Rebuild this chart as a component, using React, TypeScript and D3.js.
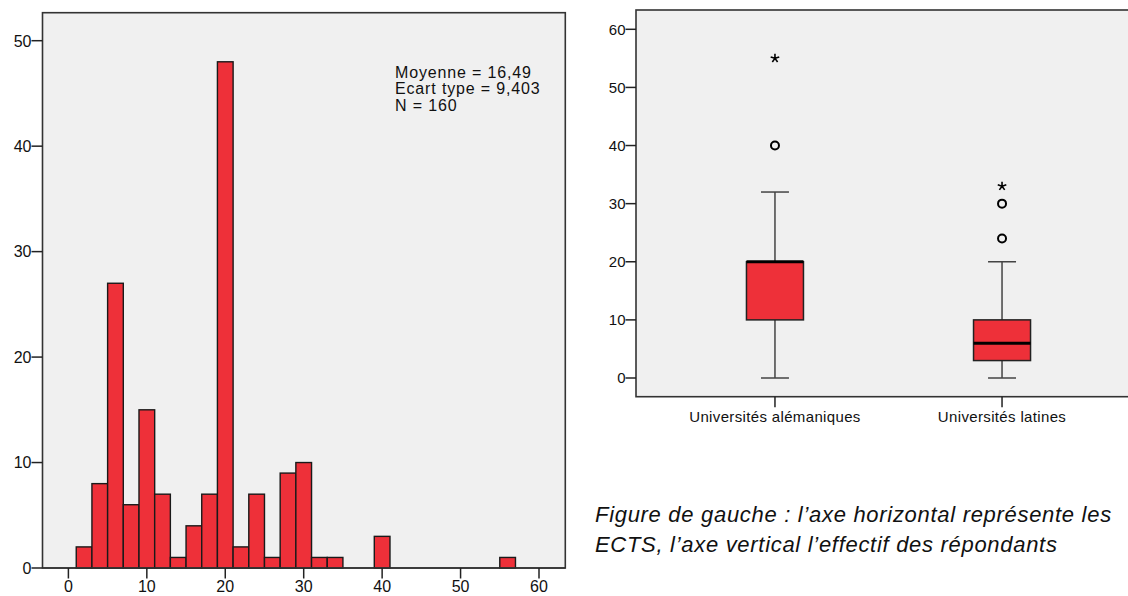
import React from 'react';
import * as d3 from 'd3';

// Histogram data (ECTS, bins of width 2)
const histBinStarts = [1, 3, 5, 7, 9, 11, 13, 15, 17, 19, 21, 23, 25, 27, 29, 31, 33, 39, 55];
const histCounts = [2, 8, 27, 6, 15, 7, 1, 4, 7, 48, 2, 7, 1, 9, 10, 1, 1, 3, 1];
const binWidth = 2;
const histXTicks = [0, 10, 20, 30, 40, 50, 60];
const histYTicks = [0, 10, 20, 30, 40, 50];
const statsLines = ['Moyenne = 16,49', 'Ecart type = 9,403', 'N = 160'];

// Boxplot data
const boxCategories = ['Universités alémaniques', 'Universités latines'];
const boxMin = [0, 0];
const boxQ1 = [10, 3];
const boxMedian = [20, 6];
const boxQ3 = [20, 10];
const boxMax = [32, 20];
const boxOutliers = [[40], [24, 30]];
const boxExtremes = [[55], [33]];
const boxYTicks = [0, 10, 20, 30, 40, 50, 60];

const captionLines = [
  'Figure de gauche : l\u2019axe horizontal représente les',
  'ECTS, l\u2019axe vertical l\u2019effectif des répondants',
];

const RED = '#EE3039';
const PANEL = '#F0F0F0';
const FONT = '"Liberation Sans", Arial, Helvetica, sans-serif';

function starPath(cx: number, cy: number, r: number) {
  const p = d3.path();
  for (let i = 0; i < 5; i++) {
    const a = (-90 + i * 72) * Math.PI / 180;
    p.moveTo(cx, cy);
    p.lineTo(cx + r * Math.cos(a), cy + r * Math.sin(a));
  }
  return p.toString();
}

export default function App() {
  // Histogram geometry
  const hFrame = { left: 42.5, right: 565.3, top: 12.7, bottom: 568 };
  const hx = d3.scaleLinear().domain([0, 60]).range([68.4, 539]);
  const hy = d3.scaleLinear().domain([0, 50]).range([568, 40.7]);

  // Boxplot geometry
  const bFrame = { left: 636, right: 1141, top: 10, bottom: 396.7 };
  const bx = d3.scalePoint<string>().domain(boxCategories).range([bFrame.left, bFrame.right]).padding(0.612);
  const by = d3.scaleLinear().domain([0, 60]).range([378, 29.3]);
  const boxW = 57;
  const capW = 28;

  return (
    <svg width={1128} height={596} style={{ position: 'absolute', left: 0, top: 0, background: '#fff' }} fontFamily={FONT}>
      {/* ---------- Histogram ---------- */}
      <rect x={hFrame.left} y={hFrame.top} width={hFrame.right - hFrame.left} height={hFrame.bottom - hFrame.top}
        fill={PANEL} stroke="#333" strokeWidth={1.6} />
      {histCounts.map((c, i) => (
        <rect key={i}
          x={hx(histBinStarts[i])}
          y={hy(c)}
          width={hx(histBinStarts[i] + binWidth) - hx(histBinStarts[i])}
          height={hy(0) - hy(c)}
          fill={RED} stroke="#1a1a1a" strokeWidth={1.4} />
      ))}
      <line x1={hFrame.left} x2={hFrame.right} y1={hFrame.bottom} y2={hFrame.bottom} stroke="#333" strokeWidth={1.6} />
      {histYTicks.map(t => (
        <g key={'hy' + t}>
          <line x1={hFrame.left - 11} x2={hFrame.left} y1={hy(t)} y2={hy(t)} stroke="#222" strokeWidth={1.5} />
          <text x={hFrame.left - 11} y={hy(t) + 5.8} fontSize={16} textAnchor="end" fill="#111">{t}</text>
        </g>
      ))}
      {histXTicks.map(t => (
        <g key={'hx' + t}>
          <line x1={hx(t)} x2={hx(t)} y1={hFrame.bottom} y2={hFrame.bottom + 10.5} stroke="#222" strokeWidth={1.5} />
          <text x={hx(t)} y={592.3} fontSize={16} textAnchor="middle" fill="#111">{t}</text>
        </g>
      ))}
      {statsLines.map((s, i) => (
        <text key={'st' + i} x={395} y={77.7 + i * 16.5} fontSize={16} letterSpacing={0.85} fill="#111">{s}</text>
      ))}

      {/* ---------- Boxplot ---------- */}
      <rect x={bFrame.left} y={bFrame.top} width={bFrame.right - bFrame.left} height={bFrame.bottom - bFrame.top}
        fill={PANEL} stroke="#333" strokeWidth={1.6} />
      {boxYTicks.map(t => (
        <g key={'by' + t}>
          <line x1={bFrame.left - 10.5} x2={bFrame.left} y1={by(t)} y2={by(t)} stroke="#222" strokeWidth={1.5} />
          <text x={bFrame.left - 10.5} y={by(t) + 5.4} fontSize={15} textAnchor="end" fill="#111">{t}</text>
        </g>
      ))}
      {boxCategories.map((c, i) => {
        const cx = bx(c) as number;
        return (
          <g key={'box' + i}>
            <line x1={cx} x2={cx} y1={bFrame.bottom} y2={bFrame.bottom + 10.5} stroke="#222" strokeWidth={1.5} />
            <text x={cx} y={421.7} fontSize={15} letterSpacing={0.35} textAnchor="middle" fill="#111">{c}</text>
            {/* whiskers */}
            <line x1={cx} x2={cx} y1={by(boxQ3[i])} y2={by(boxMax[i])} stroke="#444" strokeWidth={1.5} />
            <line x1={cx} x2={cx} y1={by(boxQ1[i])} y2={by(boxMin[i])} stroke="#444" strokeWidth={1.5} />
            <line x1={cx - capW / 2} x2={cx + capW / 2} y1={by(boxMax[i])} y2={by(boxMax[i])} stroke="#444" strokeWidth={1.5} />
            <line x1={cx - capW / 2} x2={cx + capW / 2} y1={by(boxMin[i])} y2={by(boxMin[i])} stroke="#444" strokeWidth={1.5} />
            {/* box */}
            <rect x={cx - boxW / 2} y={by(boxQ3[i])} width={boxW} height={by(boxQ1[i]) - by(boxQ3[i])}
              fill={RED} stroke="#222" strokeWidth={1.5} />
            <line x1={cx - boxW / 2} x2={cx + boxW / 2} y1={by(boxMedian[i])} y2={by(boxMedian[i])} stroke="#000" strokeWidth={3} />
            {boxOutliers[i].map(v => (
              <circle key={'o' + v} cx={cx} cy={by(v)} r={4} fill="none" stroke="#000" strokeWidth={2} />
            ))}
            {boxExtremes[i].map(v => (
              <path key={'e' + v} d={starPath(cx, by(v), 4.5)} stroke="#000" strokeWidth={1.6} fill="none" />
            ))}
          </g>
        );
      })}

      {/* ---------- Caption ---------- */}
      {captionLines.map((l, i) => (
        <text key={'cap' + i} x={595} y={521.7 + i * 30} fontSize={22} fontStyle="italic" letterSpacing={0.7} fill="#111">{l}</text>
      ))}
    </svg>
  );
}
